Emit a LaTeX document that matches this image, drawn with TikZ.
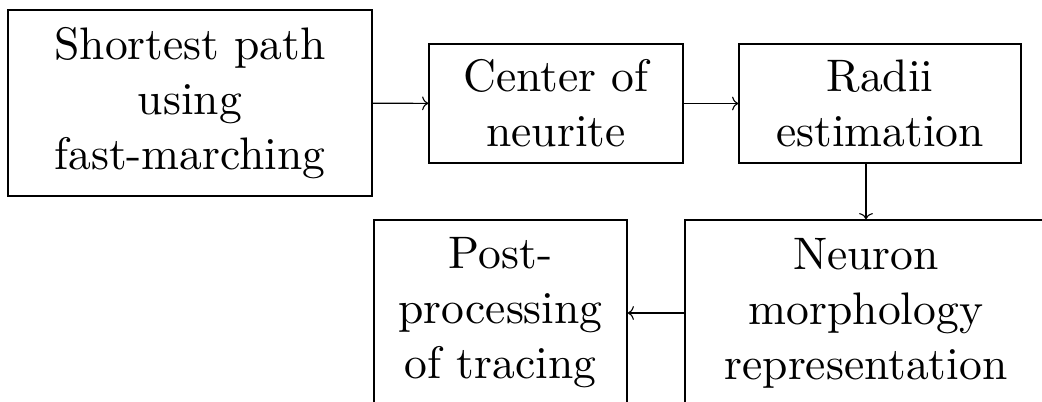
\documentclass[tikz,border=0pt]{standalone}
\usepackage{fontspec}
\setmainfont{lmroman10-regular.otf}
\usetikzlibrary{calc,arrows.meta}
\begin{document}
\begin{tikzpicture}[x=0.546pt,y=-0.546pt,
  box/.style={draw,line width=0.7pt,align=center,font=\Huge,inner sep=0pt},
  conn/.style={-{To[length=3.4pt,width=7.5pt]},line width=0.6pt}]
\useasboundingbox (0,0) rectangle (1042,402);
\node[box,minimum width=364*0.546pt,minimum height=186*0.546pt] (sp) at (190,103) {Shortest path\\using\\fast-marching};
\node[box,minimum width=254*0.546pt,minimum height=119*0.546pt] (cn) at (556,103.5) {Center of\\neurite};
\node[box,minimum width=282*0.546pt,minimum height=119*0.546pt] (re) at (880,103.5) {Radii\\estimation};
\node[box,minimum width=362*0.546pt,minimum height=186*0.546pt] (nm) at (866,313) {Neuron\\morphology\\representation};
\node[box,minimum width=253*0.546pt,minimum height=186*0.546pt] (pp) at (500.5,313) {Post-\\processing\\of tracing};
\draw[conn] (sp) -- (cn);
\draw[conn] (cn) -- (re);
\draw[conn] (re.south -| nm.north) -- (nm.north);
\draw[conn] (nm) -- (pp);
\end{tikzpicture}
\end{document}
